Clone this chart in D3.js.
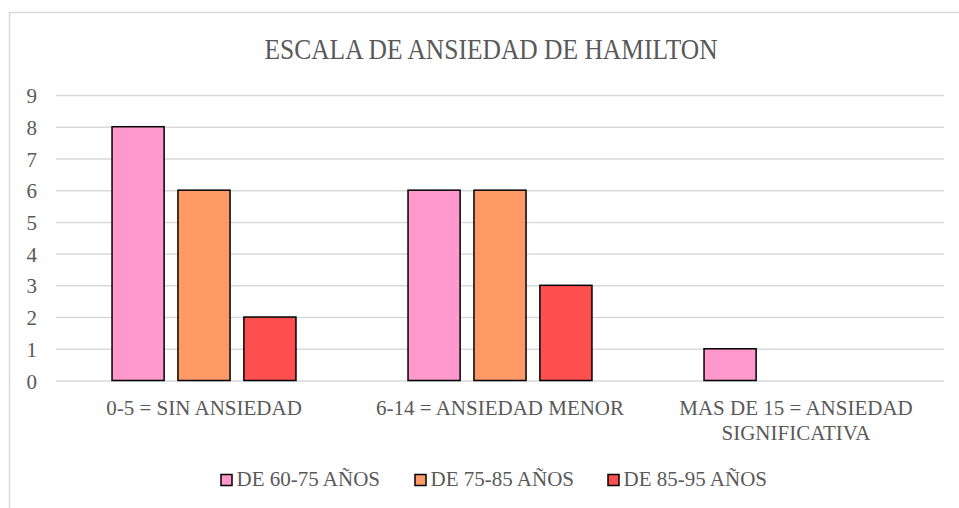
<!DOCTYPE html>
<html>
<head>
<meta charset="utf-8">
<script src="https://cdn.jsdelivr.net/npm/d3@7"></script>
<style>
  html, body { margin: 0; padding: 0; background: #fff; }
  svg { display: block; }
</style>
</head>
<body>
<svg id="chart" width="959" height="508"></svg>
<script>
// Hamilton anxiety scale: counts per score band and age group
const categories = [
  ["0-5 = SIN ANSIEDAD"],
  ["6-14 = ANSIEDAD MENOR"],
  ["MAS DE 15 = ANSIEDAD", "SIGNIFICATIVA"]
];
const seriesNames = ["DE 60-75 AÑOS", "DE 75-85 AÑOS", "DE 85-95 AÑOS"];
const seriesColors = ["#FF99CC", "#FF9966", "#FF5050"];
const values60_75 = [8, 6, 1];
const values75_85 = [6, 6, 0];
const values85_95 = [2, 3, 0];
const yTicks = [0, 1, 2, 3, 4, 5, 6, 7, 8, 9];
const titleText = "ESCALA DE ANSIEDAD DE HAMILTON";

const seriesValues = [values60_75, values75_85, values85_95];

const FONT = "Liberation Serif";
const FS = 21;
const svg = d3.select("#chart");
const W = 959, H = 508;
const plot = { left: 56, right: 944, top: 95, bottom: 380.5 };
const textColor = "#595959";

// chart frame
svg.append("rect")
  .attr("x", 9.5).attr("y", 12.5)
  .attr("width", W + 20).attr("height", H + 20)
  .attr("fill", "#fff")
  .attr("stroke", "#d9d9d9").attr("stroke-width", 1.5);

svg.append("text")
  .attr("transform", "translate(491,59) scale(1,1.15)")
  .attr("text-anchor", "middle")
  .attr("fill", textColor)
  .attr("font-family", FONT)
  .attr("font-size", 25.5)
  .text(titleText);

const x0 = d3.scaleBand()
  .domain(d3.range(categories.length))
  .range([plot.left, plot.right])
  .paddingInner(0).paddingOuter(0);

const x1 = d3.scaleBand()
  .domain(d3.range(seriesNames.length))
  .range([0, x0.bandwidth()])
  .paddingInner(0.21).paddingOuter(0.85);

const y = d3.scaleLinear().domain([0, 9]).range([plot.bottom, plot.top]);

// gridlines and y labels
const yAxis = d3.axisLeft(y).tickValues(yTicks).tickSize(-(plot.right - plot.left)).tickPadding(19);
const gy = svg.append("g")
  .attr("transform", `translate(${plot.left},0)`)
  .call(yAxis)
  .attr("font-family", FONT)
  .attr("font-size", FS);
gy.select(".domain").remove();
gy.selectAll(".tick line").attr("stroke", "#d9d9d9").attr("stroke-width", 1.5);
gy.selectAll(".tick text")
  .attr("fill", textColor)
  .attr("dy", "0.36em");

// bars
const groups = svg.append("g").selectAll("g")
  .data(categories)
  .join("g")
  .attr("transform", (d, i) => `translate(${x0(i)},0)`);

groups.selectAll("rect")
  .data((d, i) => seriesValues.map((vals, s) => ({ s, v: vals[i] })).filter(d => d.v > 0))
  .join("rect")
  .attr("x", d => x1(d.s))
  .attr("y", d => y(d.v))
  .attr("width", x1.bandwidth())
  .attr("height", d => y(0) - y(d.v))
  .attr("fill", d => seriesColors[d.s])
  .attr("stroke", "#000")
  .attr("stroke-width", 1.5);

// category labels
groups.append("text")
  .attr("x", x0.bandwidth() / 2)
  .attr("y", 415)
  .attr("text-anchor", "middle")
  .attr("fill", textColor)
  .attr("font-family", FONT)
  .attr("font-size", FS)
  .selectAll("tspan")
  .data(d => d)
  .join("tspan")
  .attr("x", x0.bandwidth() / 2)
  .attr("dy", (d, i) => i === 0 ? 0 : 25)
  .text(d => d);

// legend
const legendX = [221, 415, 608];
const legend = svg.append("g").selectAll("g")
  .data(seriesNames)
  .join("g")
  .attr("transform", (d, i) => `translate(${legendX[i]},474.5)`);
legend.append("rect")
  .attr("x", 0).attr("y", 0)
  .attr("width", 11).attr("height", 11)
  .attr("fill", (d, i) => seriesColors[i])
  .attr("stroke", "#000").attr("stroke-width", 1.5);
legend.append("text")
  .attr("x", 15.5).attr("y", 11.5)
  .attr("fill", textColor)
  .attr("font-family", FONT)
  .attr("font-size", FS)
  .text(d => d);
</script>
</body>
</html>
